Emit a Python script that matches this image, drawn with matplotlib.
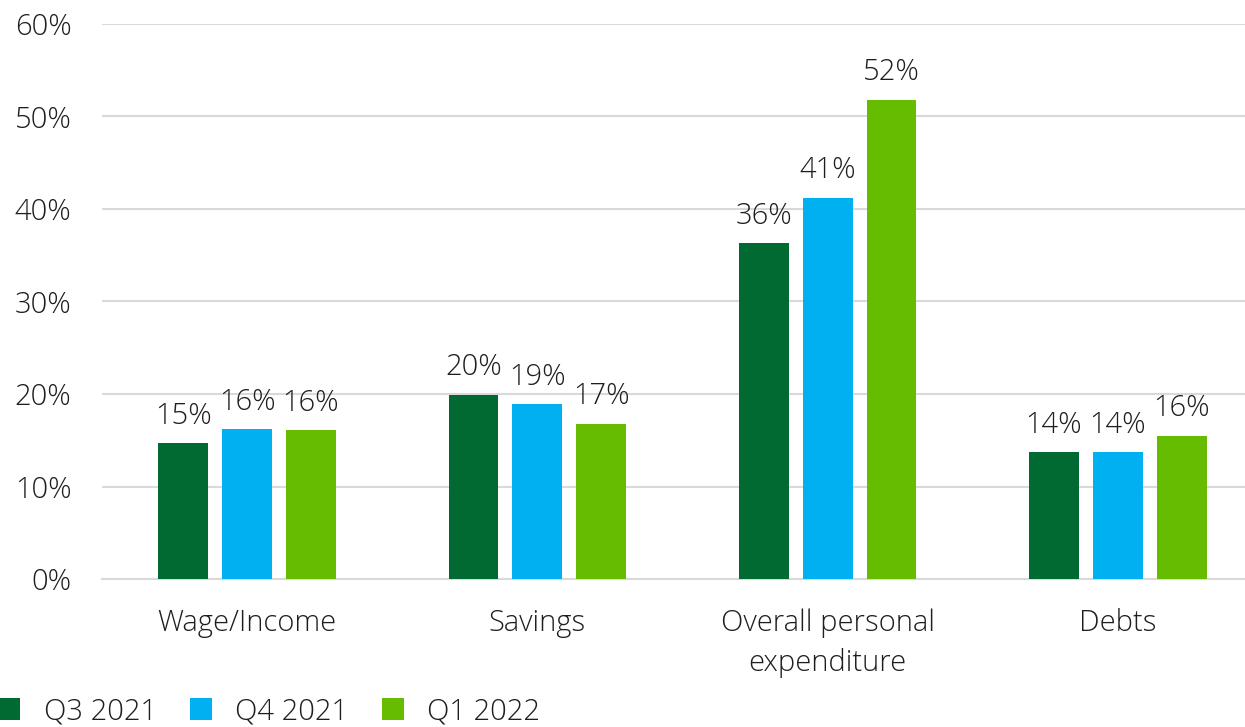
import numpy as np
import matplotlib.pyplot as plt

categories = ['Wage/Income', 'Savings', 'Overall personal\nexpenditure', 'Debts']
series = ['Q3 2021', 'Q4 2021', 'Q1 2022']
q3_2021 = [14.7, 19.9, 36.3, 13.7]
q4_2021 = [16.2, 18.9, 41.2, 13.7]
q1_2022 = [16.1, 16.8, 51.8, 15.5]
colors = ['#006A32', '#00B0F0', '#66BC00']

plt.rcParams['font.family'] = ['Open Sans', 'DejaVu Sans']
text_color = '#1e1e1e'
fsize = 21

fig = plt.figure(figsize=(12.45, 7.27), dpi=100)
ax = fig.add_axes([102 / 1245, 148 / 727, 1161 / 1245, 555 / 727])

x = np.arange(len(categories))
width = 0.172
offset = 0.22
for i, (vals, name) in enumerate(zip([q3_2021, q4_2021, q1_2022], series)):
    bars = ax.bar(x + (i - 1) * offset, vals, width, color=colors[i], label=name, zorder=3)
    for rect, v in zip(bars, vals):
        ax.annotate(f'{v:.0f}%', xy=(rect.get_x() + rect.get_width() / 2, v),
                    xytext=(0, 9), textcoords='offset points',
                    ha='center', va='bottom', fontsize=fsize, color=text_color,
                    fontweight='light')

ax.set_xlim(-0.5, len(categories) - 0.5)
ax.set_ylim(0, 60)
ax.set_yticks(range(0, 61, 10))
ax.set_yticklabels([f'{t}%' for t in range(0, 61, 10)])
ax.yaxis.grid(True, color='#d9d9d9', linewidth=1.5, zorder=0)
ax.set_axisbelow(True)
ax.set_xticks(x)
ax.set_xticklabels(categories, linespacing=1.45)
ax.tick_params(axis='both', length=0, labelsize=fsize, labelcolor=text_color)
ax.tick_params(axis='y', pad=22)
ax.tick_params(axis='x', pad=21)
for lbl in ax.get_xticklabels() + ax.get_yticklabels():
    lbl.set_fontweight('light')
for side in ['top', 'right', 'left']:
    ax.spines[side].set_visible(False)
ax.spines['bottom'].set_color('#d9d9d9')
ax.spines['bottom'].set_linewidth(1.5)

leg = fig.legend(loc='lower left', bbox_to_anchor=(-0.013, -0.019), ncol=3, frameon=False,
                 borderpad=0, handlelength=0.75, handleheight=0.75, handletextpad=0.8,
                 columnspacing=1.15, prop={'size': fsize, 'weight': 'light'})
for t in leg.get_texts():
    t.set_color(text_color)

fig.savefig('out.png', dpi=100)
